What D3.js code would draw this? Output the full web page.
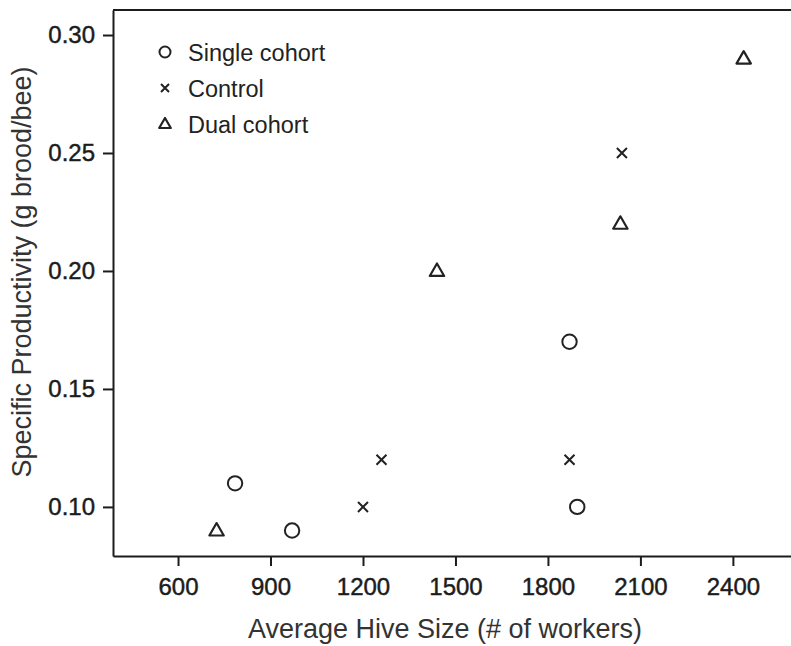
<!DOCTYPE html>
<html>
<head>
<meta charset="utf-8">
<script src="https://cdn.jsdelivr.net/npm/d3@7/dist/d3.min.js"></script>
<style>
  html, body { margin: 0; padding: 0; background: #fff; }
  svg { display: block; font-family: "Liberation Sans", Arial, Helvetica, sans-serif; }
</style>
</head>
<body>
<svg id="chart" width="791" height="646"></svg>
<script>
// ---- Data ----
const seriesNames = ["Single cohort", "Control", "Dual cohort"];
const singleX = [785, 970, 1870, 1895];
const singleY = [0.11, 0.09, 0.17, 0.10];
const controlX = [1200, 1260, 1870, 2040];
const controlY = [0.10, 0.12, 0.12, 0.25];
const dualX = [725, 1440, 2035, 2435];
const dualY = [0.09, 0.20, 0.22, 0.29];
const xTicks = [600, 900, 1200, 1500, 1800, 2100, 2400];
const yTicks = [0.10, 0.15, 0.20, 0.25, 0.30];
const xTitle = "Average Hive Size (# of workers)";
const yTitle = "Specific Productivity (g brood/bee)";

// ---- Layout ----
const svg = d3.select("#chart");
const mLeft = 113, mTop = 10, mBottom = 556, mRight = 793;

const x = d3.scaleLinear().domain([389, 2595]).range([mLeft, mRight]);
const y = d3.scaleLinear().domain([0.0792, 0.3106]).range([mBottom, mTop]);

const ink = "#1c1c1c";

// Top frame line (runs off the right edge)
svg.append("line").attr("x1", mLeft).attr("x2", mRight).attr("y1", mTop).attr("y2", mTop)
  .attr("stroke", ink).attr("stroke-width", 2);

function styleTickText(sel) {
  sel.attr("fill", ink).attr("font-size", 24)
    .attr("stroke", ink).attr("stroke-width", 0.45)
    .attr("font-family", "'Liberation Sans', Arial, sans-serif");
}

// X axis
const xAxis = svg.append("g").attr("transform", `translate(0,${mBottom})`)
  .call(d3.axisBottom(x).tickValues(xTicks).tickSize(10).tickSizeOuter(0).tickPadding(12).tickFormat(d3.format("d")));
xAxis.select(".domain").attr("stroke", ink).attr("stroke-width", 2);
xAxis.selectAll(".tick line").attr("stroke", ink).attr("stroke-width", 2);
styleTickText(xAxis.selectAll(".tick text"));

// Y axis
const yAxis = svg.append("g").attr("transform", `translate(${mLeft},0)`)
  .call(d3.axisLeft(y).tickValues(yTicks).tickSize(10).tickSizeOuter(0).tickPadding(8).tickFormat(d3.format(".2f")));
yAxis.select(".domain").attr("stroke", ink).attr("stroke-width", 2);
yAxis.selectAll(".tick line").attr("stroke", ink).attr("stroke-width", 2);
styleTickText(yAxis.selectAll(".tick text"));

// Axis titles
svg.append("text").attr("x", 445).attr("y", 638).attr("text-anchor", "middle")
  .attr("font-size", 27).attr("fill", "#333").text(xTitle);
svg.append("text").attr("transform", `translate(31,272) rotate(-90)`).attr("text-anchor", "middle")
  .attr("font-size", 27).attr("fill", "#333").text(yTitle);

// ---- Marker drawing ----
const mk = "#222";
function circle(g, cx, cy, r) {
  g.append("circle").attr("cx", cx).attr("cy", cy).attr("r", r)
    .attr("fill", "none").attr("stroke", mk).attr("stroke-width", 2);
}
function cross(g, cx, cy, s) {
  g.append("path").attr("d", `M${cx - s},${cy - s}L${cx + s},${cy + s}M${cx - s},${cy + s}L${cx + s},${cy - s}`)
    .attr("fill", "none").attr("stroke", mk).attr("stroke-width", 2);
}
function tri(g, cx, cy, s) {
  const h = s * 1.732;
  g.append("path").attr("d", `M${cx},${cy - h * 0.6}L${cx + s},${cy + h * 0.4}L${cx - s},${cy + h * 0.4}Z`)
    .attr("fill", "none").attr("stroke", mk).attr("stroke-width", 2.2).attr("stroke-linejoin", "round");
}

const pts = svg.append("g");
singleX.forEach((v, i) => circle(pts, x(v), y(singleY[i]), 7.2));
controlX.forEach((v, i) => cross(pts, x(v), y(controlY[i]), 5));
dualX.forEach((v, i) => tri(pts, x(v), y(dualY[i]), 7.2));

// ---- Legend ----
const leg = svg.append("g");
const legX = 165, legY0 = 52, legDy = 36;
const drawers = [(g, cx, cy) => circle(g, cx, cy, 5.5), (g, cx, cy) => cross(g, cx, cy, 4), (g, cx, cy) => tri(g, cx, cy, 5.8)];
seriesNames.forEach((name, i) => {
  const cy = legY0 + i * legDy;
  drawers[i](leg, legX, cy);
  leg.append("text").attr("x", 188).attr("y", cy + 8.5).attr("font-size", 23.5).attr("fill", "#222").text(name);
});
</script>
</body>
</html>
